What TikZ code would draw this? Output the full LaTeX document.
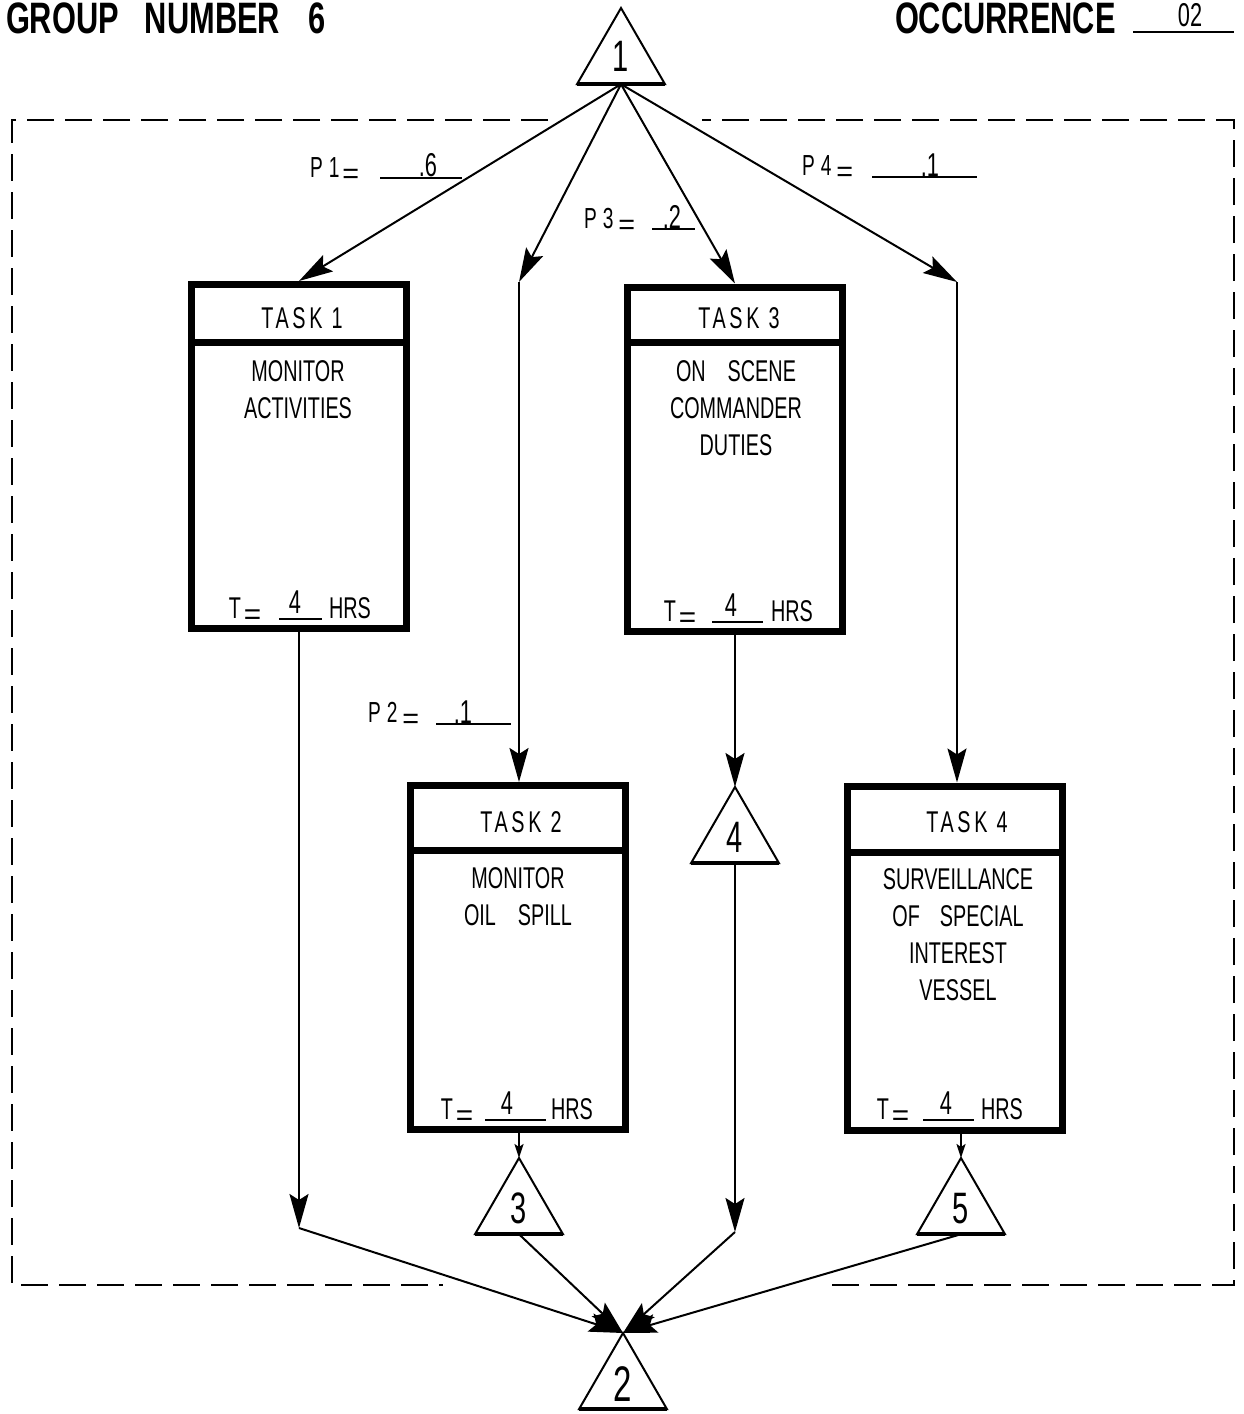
\documentclass[tikz,border=0pt]{standalone}
\usepackage{fontspec}
\usepackage{graphicx}
\usetikzlibrary{arrows.meta,shapes.geometric}
\newfontfamily\cnd[FakeStretch=0.66]{Liberation Sans}
\newfontfamily\cndsp[FakeStretch=0.66,LetterSpace=12]{Liberation Sans}
\newfontfamily\hdr[FakeStretch=0.7]{Liberation Sans}
\newcommand\bodyf{\cnd\fontsize{30}{37}\selectfont}
\newcommand\headf{\cndsp\fontsize{30}{34}\selectfont}
\newcommand\plf{\cnd\fontsize{29}{32}\selectfont}
\newcommand\valf{\cnd\fontsize{33}{36}\selectfont}
\newcommand\digf{\cnd\fontsize{44}{48}\selectfont}
\newcommand\titf{\hdr\bfseries\fontsize{44}{48}\selectfont}
\newcommand\loweq{\raisebox{-6pt}{\scalebox{1.5}[1]{=}}}
\newcommand\tline[7]{%
  \node[bodytxt,anchor=base] (#1T) at (#2,#7) {T\kern3pt\loweq};
  \coordinate (#1ua) at (#3,#7+1);
  \coordinate (#1ub) at (#4,#7+1);
  \draw[uline] (#1ua) -- (#1ub);
  \node[valtxt,anchor=south] (#1V) at (#5,#7-5) {4};
  \node[bodytxt,anchor=base] (#1H) at (#6,#7) {HRS};
}
\newcommand\plabel[9]{%
  \node[plab,anchor=base west] (#1L) at (#2,#3) {#4};
  \coordinate (#1ua) at (#5,#7);
  \coordinate (#1ub) at (#6,#7);
  \draw[uline] (#1ua) -- (#1ub);
  \node[valtxt,anchor=south] (#1V) at (#8,#7-1) {#9};
}
\begin{document}
\begin{tikzpicture}[x=1pt,y=-1pt,
  every node/.style={inner sep=0pt,outer sep=0pt},
  taskbox/.style={draw,line width=7pt,minimum width=215pt,minimum height=344pt,outer sep=3.5pt},
  divline/.style={line width=7pt},
  trinode/.style={draw,line width=2pt,regular polygon,regular polygon sides=3,minimum size=101.6pt,font=\digf},
  conn/.style={line width=2pt,-{Stealth[length=34pt,width=19pt,inset=6pt]}},
  sconn/.style={line width=2pt,-{Stealth[length=14pt,width=9pt,inset=3pt]}},
  dashframe/.style={line width=2.5pt,dash pattern=on 27pt off 11pt},
  bodytxt/.style={font=\bodyf,align=center},
  headtxt/.style={font=\headf},
  plab/.style={font=\plf},
  valtxt/.style={font=\valf},
  uline/.style={line width=1.8pt},
]
\useasboundingbox (0,0) rectangle (1243,1414);

% header
\node[font=\titf,anchor=west] (grp) at (6,18) {GROUP\hspace{26pt}NUMBER\hspace{28pt}6};
\node[font=\titf,anchor=west] (occ) at (895,18) {OCCURRENCE};
\coordinate (oca) at (1133,32);
\coordinate (ocb) at (1234,32);
\draw[uline] (oca) -- (ocb);
\node[valtxt,anchor=south] (ocv) at (1190,27) {02};

% dashed frame
\draw[dashframe] (548,120) -- (12,120) -- (12,1285) -- (443,1285);
\draw[dashframe] (832,1285) -- (1234,1285) -- (1234,120) -- (702,120);

% triangles
\node[trinode] (t1) at (621,58.8) {\raisebox{4pt}{1}};
\node[trinode] (t4) at (735,837.8) {4};
\node[trinode] (t3) at (519,1208.8) {3};
\node[trinode] (t5) at (961,1208.8) {5};
\node[trinode,font=\cnd\fontsize{50}{52}\selectfont] (t2) at (623,1383.8) {2};
\foreach \t in {t1,t4,t3,t5,t2}{\draw[line width=3.5pt] (\t.corner 2) -- (\t.corner 3);}

% task boxes
\node[taskbox] (k1) at (299,456.5) {};
\node[taskbox] (k3) at (735,459) {};
\node[taskbox] (k2) at (518,957.5) {};
\node[taskbox] (k4) at (955,958) {};
\draw[divline] (k1.west |- 0,342) -- (k1.east |- 0,342);
\draw[divline] (k3.west |- 0,342.5) -- (k3.east |- 0,342.5);
\draw[divline] (k2.west |- 0,850) -- (k2.east |- 0,850);
\draw[divline] (k4.west |- 0,852) -- (k4.east |- 0,852);

\node[headtxt] (h1) at (302,318) {TASK 1};
\node[headtxt] (h3) at (739,318) {TASK 3};
\node[headtxt] (h2) at (521,822) {TASK 2};
\node[headtxt] (h4) at (967,822) {TASK 4};

\node[bodytxt] (b1) at (298,390) {MONITOR\\ACTIVITIES};
\node[bodytxt] (b3) at (736,408) {ON\hspace{22pt}SCENE\\COMMANDER\\DUTIES};
\node[bodytxt] (b2) at (518,896.5) {MONITOR\\OIL\hspace{22pt}SPILL};
\node[bodytxt] (b4) at (958,935) {SURVEILLANCE\\OF\hspace{20pt}SPECIAL\\INTEREST\\VESSEL};

\tline{k1}{245}{279}{322}{295}{350}{618}
\tline{k3}{680}{712}{763}{731}{792}{621}
\tline{k2}{457}{485}{546}{507}{572}{1119}
\tline{k4}{893}{923}{974}{946}{1002}{1119}

% probability labels
\plabel{pa}{310}{177}{P\kern6pt1\kern3pt\loweq}{380}{462}{178}{428}{.6}
\plabel{pc}{584}{228}{P\kern6pt3\kern5pt\loweq}{652}{695}{229}{672}{.2}
\plabel{pd}{802}{175}{P\kern6pt4\kern5pt\loweq}{872}{977}{177}{930}{.1}
\plabel{pb}{368}{722}{P\kern6pt2\kern5pt\loweq}{436}{511}{724}{463}{.1}

% junctions
\coordinate (j2) at (519,282);
\coordinate (j4) at (957,282);
\coordinate (j5) at (299,1228);
\coordinate (j6) at (735,1232);

% connectors
\draw[conn] (t1.side 2) -- (k1.north);
\draw[conn] (t1.side 2) -- (j2);
\draw[conn] (j2) -- (j2 |- k2.north);
\draw[conn] (t1.side 2) -- (k3.north);
\draw[conn] (t1.side 2) -- (j4);
\draw[conn] (j4) -- (j4 |- k4.north);
\draw[conn] (k1.south) -- (j5);
\draw[conn] (j5) -- (t2.corner 1);
\draw[sconn] (t3.corner 1 |- k2.south) -- (t3.corner 1);
\draw[conn] (t3.side 2) -- (t2.corner 1);
\draw[conn] (k3.south) -- (t4.corner 1);
\draw[conn] (t4.side 2) -- (j6);
\draw[conn] (j6) -- (t2.corner 1);
\draw[sconn] (t5.corner 1 |- k4.south) -- (t5.corner 1);
\draw[conn] (t5.side 2) -- (t2.corner 1);
\end{tikzpicture}
\end{document}
